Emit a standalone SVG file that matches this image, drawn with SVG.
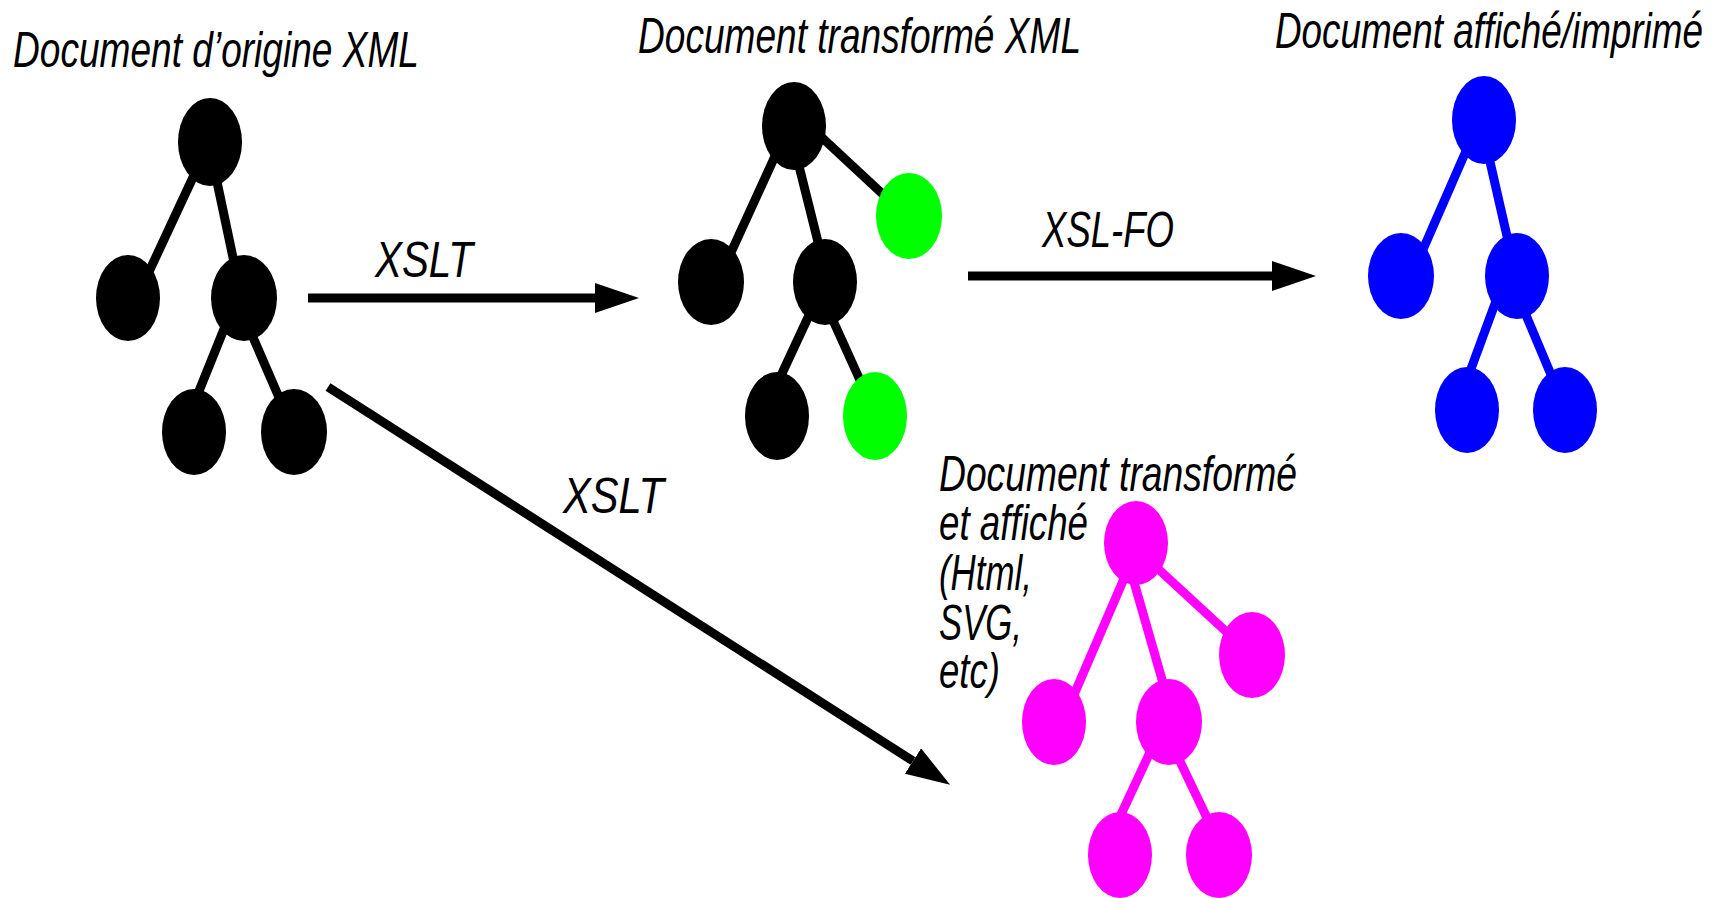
<svg xmlns="http://www.w3.org/2000/svg" width="1723" height="898" viewBox="0 0 1723 898">
<style>
text{font-family:"Liberation Sans Narrow","Liberation Sans",Arial,sans-serif;font-style:italic;font-size:50px;fill:#000}
.e{stroke-width:9;stroke-linecap:butt}
.k{fill:#000}.g{fill:#00ff00}.b{fill:#0000ff}.m{fill:#ff00ff}
.ek{stroke:#000}.eb{stroke:#0000ff}.em{stroke:#ff00ff}
.arr{stroke:#000;stroke-width:9;fill:none;marker-end:url(#head)}
</style>
<defs>
<marker id="head" viewBox="0 0 44 30" refX="0" refY="15" markerWidth="44" markerHeight="30" markerUnits="userSpaceOnUse" orient="auto">
<path d="M0,0 L44,15 L0,30 Z" fill="#000"/>
</marker>
</defs>
<rect width="1723" height="898" fill="#fff"/>

<g id="connectors">
<line class="arr" x1="308" y1="298" x2="595" y2="298"/>
<line class="arr" x1="968" y1="276" x2="1272" y2="276"/>
<line class="arr" x1="328" y1="387" x2="913" y2="761"/>
</g>

<g id="labels">
<text x="13" y="67" textLength="406" lengthAdjust="spacingAndGlyphs">Document d’origine XML</text>
<text x="638" y="53" textLength="443" lengthAdjust="spacingAndGlyphs">Document transformé XML</text>
<text x="1275" y="48" textLength="428" lengthAdjust="spacingAndGlyphs">Document affiché/imprimé</text>
<text x="375" y="277" textLength="98" lengthAdjust="spacingAndGlyphs">XSLT</text>
<text x="563" y="513" textLength="101" lengthAdjust="spacingAndGlyphs">XSLT</text>
<text x="1042" y="247" textLength="132" lengthAdjust="spacingAndGlyphs">XSL-FO</text>
<text x="939" y="491" textLength="358" lengthAdjust="spacingAndGlyphs">Document transformé</text>
<text x="939" y="540" textLength="149" lengthAdjust="spacingAndGlyphs">et affiché</text>
<text x="939" y="590" textLength="93" lengthAdjust="spacingAndGlyphs">(Html,</text>
<text x="939" y="640" textLength="83" lengthAdjust="spacingAndGlyphs">SVG,</text>
<text x="939" y="688" textLength="61" lengthAdjust="spacingAndGlyphs">etc)</text>
</g>

<g id="tree-origine">
<g class="e ek">
<line x1="195" y1="173" x2="147" y2="276"/>
<line x1="216" y1="177" x2="235" y2="267"/>
<line x1="226" y1="324" x2="195" y2="401"/>
<line x1="249" y1="328" x2="281" y2="402"/>
</g>
<ellipse class="k" cx="210" cy="142" rx="32" ry="44"/>
<ellipse class="k" cx="128" cy="298" rx="32" ry="43"/>
<ellipse class="k" cx="244" cy="298" rx="33" ry="43"/>
<ellipse class="k" cx="194" cy="432" rx="32" ry="43"/>
<ellipse class="k" cx="294" cy="432" rx="33" ry="43"/>
</g>

<g id="tree-transforme">
<g class="e ek">
<line x1="817" y1="133" x2="888" y2="199"/>
<line x1="776" y1="154" x2="728" y2="259"/>
<line x1="797" y1="158" x2="820" y2="250"/>
<line x1="811" y1="311" x2="778" y2="382"/>
<line x1="831" y1="316" x2="864" y2="389"/>
</g>
<ellipse class="k" cx="794" cy="126" rx="32" ry="44"/>
<ellipse class="g" cx="909" cy="216" rx="33" ry="43"/>
<ellipse class="k" cx="711" cy="282" rx="33" ry="43"/>
<ellipse class="k" cx="825" cy="282" rx="32" ry="43"/>
<ellipse class="k" cx="777" cy="416" rx="32" ry="44"/>
<ellipse class="g" cx="875" cy="416" rx="32" ry="44"/>
</g>

<g id="tree-affiche">
<g class="e eb">
<line x1="1466" y1="151" x2="1421" y2="254"/>
<line x1="1488" y1="153" x2="1509" y2="245"/>
<line x1="1496" y1="301" x2="1468" y2="377"/>
<line x1="1523" y1="308" x2="1552" y2="377"/>
</g>
<ellipse class="b" cx="1484" cy="120" rx="32" ry="44"/>
<ellipse class="b" cx="1401" cy="276" rx="33" ry="43"/>
<ellipse class="b" cx="1517" cy="276" rx="32" ry="43"/>
<ellipse class="b" cx="1467" cy="410" rx="32" ry="43"/>
<ellipse class="b" cx="1565" cy="410" rx="32" ry="43"/>
</g>

<g id="tree-html">
<g class="e em">
<line x1="1126" y1="574" x2="1073" y2="697"/>
<line x1="1132" y1="575" x2="1165" y2="690"/>
<line x1="1155" y1="566" x2="1232" y2="637"/>
<line x1="1152" y1="748" x2="1118" y2="821"/>
<line x1="1176" y1="753" x2="1209" y2="822"/>
</g>
<ellipse class="m" cx="1136" cy="543" rx="32" ry="42"/>
<ellipse class="m" cx="1252" cy="655" rx="33" ry="43"/>
<ellipse class="m" cx="1054" cy="722" rx="32" ry="43"/>
<ellipse class="m" cx="1169" cy="722" rx="33" ry="43"/>
<ellipse class="m" cx="1120" cy="855" rx="32" ry="43"/>
<ellipse class="m" cx="1219" cy="855" rx="33" ry="43"/>
</g>
</svg>
